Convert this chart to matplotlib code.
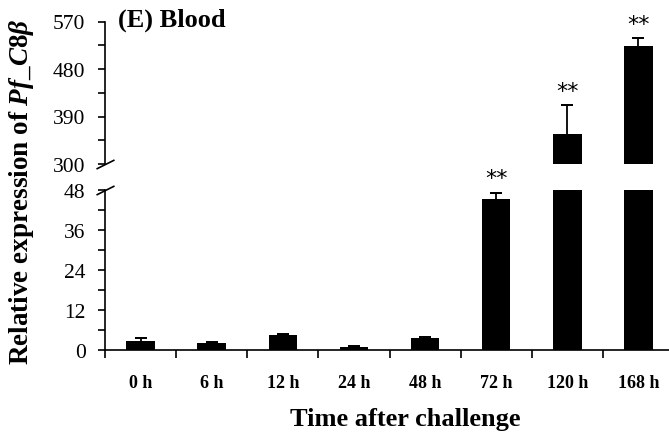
import numpy as np
import matplotlib
matplotlib.use("Agg")
import matplotlib.pyplot as plt

# data
times = ["0 h", "6 h", "12 h", "24 h", "48 h", "72 h", "120 h", "168 h"]
expr = [2.6, 2.1, 4.5, 0.9, 3.7, 45.3, 357.0, 524.0]
err = [1.0, 0.2, 0.2, 0.2, 0.2, 1.9, 55.0, 14.0]
signif = ["", "", "", "", "", "**", "**", "**"]
lo_ticks = [0, 12, 24, 36, 48]
hi_ticks = [300, 390, 480, 570]

plt.rcParams['font.family'] = ['Liberation Serif', 'DejaVu Serif']
plt.rcParams['mathtext.fontset'] = 'custom'
plt.rcParams['mathtext.it'] = 'Liberation Serif:italic:bold'
plt.rcParams['mathtext.rm'] = 'Liberation Serif:bold'
plt.rcParams['mathtext.bf'] = 'Liberation Serif:bold'

W, H = 669, 439
fig = plt.figure(figsize=(W / 100, H / 100), dpi=100)

left = 105 / W
width = (674 - 105) / W
ax_lo = fig.add_axes([left, (H - 351) / H, width, (351 - 191) / H])
ax_hi = fig.add_axes([left, (H - 165) / H, width, (165 - 22.5) / H])

x = np.arange(len(times))
vals = np.array(expr)
errs = np.array(err)

for ax in (ax_lo, ax_hi):
    ax.bar(x, vals, width=0.4, color="black", zorder=2)
    # only the upper half of the error bar is visible
    ax.vlines(x, vals, vals + errs, color="black", lw=1.3, zorder=1)
    ax.errorbar(x, vals + errs, yerr=0, fmt="none", ecolor="black",
                capsize=4, capthick=1.3, zorder=1)
    ax.set_xlim(-0.5, len(times) - 0.5)
    for s in ("top", "right"):
        ax.spines[s].set_visible(False)
    ax.spines["left"].set_linewidth(1.2)
    ax.tick_params(axis="y", which="both", direction="out", length=5,
                   width=1.2, labelsize=15.5, pad=9)

ax_lo.set_ylim(lo_ticks[0], lo_ticks[-1])
ax_lo.set_yticks(lo_ticks)
ax_lo.set_yticks(np.array(lo_ticks[:-1]) + 6, minor=True)
ax_hi.set_ylim(hi_ticks[0], hi_ticks[-1])
ax_hi.set_yticks(hi_ticks)
ax_hi.set_yticks(np.array(hi_ticks[:-1]) + 45, minor=True)

ax_hi.spines["bottom"].set_visible(False)
ax_hi.set_xticks([])

ax_lo.spines["bottom"].set_linewidth(1.2)
ax_lo.set_xticks(np.arange(-0.5, len(times)))
ax_lo.set_xticklabels([])
ax_lo.set_xticks(x, minor=True)
ax_lo.set_xticklabels(times, minor=True, fontweight="bold", fontsize=13)
ax_lo.tick_params(axis="x", which="major", direction="out", length=6, width=1.2)
ax_lo.tick_params(axis="x", which="minor", length=0, pad=17)

# significance marks
for i, lab in enumerate(signif):
    if not lab:
        continue
    top = vals[i] + errs[i]
    ax = ax_lo if vals[i] < 48 else ax_hi
    ax.annotate(lab, (x[i], top), xytext=(0, 3), textcoords="offset points",
                ha="center", va="bottom", fontsize=16, family="DejaVu Sans")

# break marks
kw = dict(marker=[(-1, -0.5), (1, 0.5)], markersize=13, linestyle="none",
          color="black", mec="black", mew=1.2, clip_on=False)
ax_hi.plot([0], [0], transform=ax_hi.transAxes, **kw)
ax_lo.plot([0], [1], transform=ax_lo.transAxes, **kw)

fig.text(118 / W, 1 - 20 / H, "(E) Blood", fontsize=19, fontweight="bold",
         ha="left", va="center")
fig.text(22 / W, 1 - 192 / H, r"Relative expression of $Pf\_C8\beta$",
         rotation=90, fontsize=19.5, fontweight="bold", ha="center", va="center")
fig.text(405 / W, 1 - 420 / H, "Time after challenge", fontsize=19,
         fontweight="bold", ha="center", va="center")

fig.savefig("out.png", dpi=100)
